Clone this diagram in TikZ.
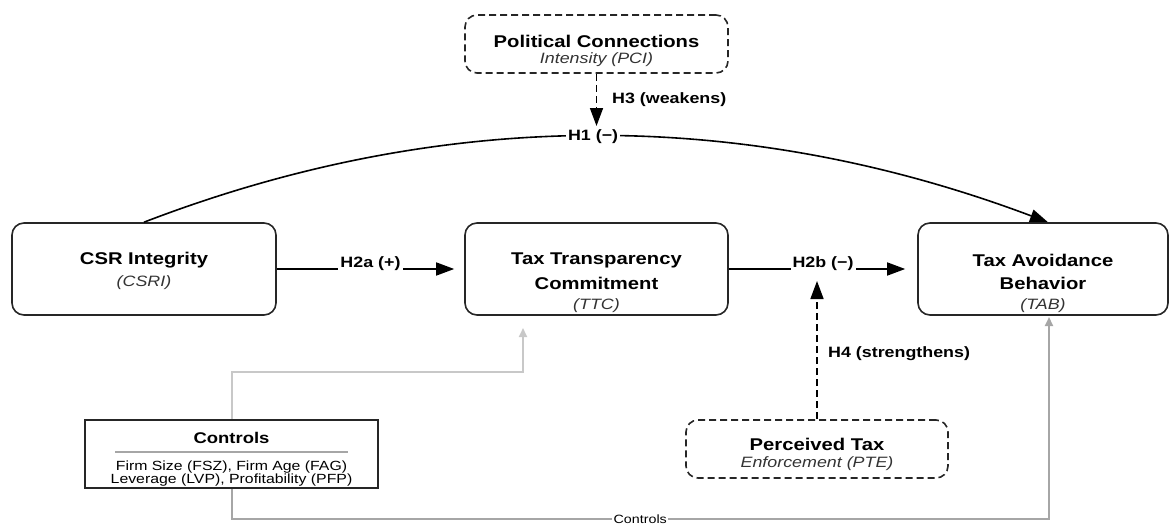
\documentclass[tikz,border=0pt]{standalone}
\usepackage{fontspec}
\setmainfont{Liberation Sans}[FakeStretch=1.19]
\usetikzlibrary{arrows.meta}
\definecolor{subgray}{HTML}{333333}
\definecolor{boxline}{HTML}{262626}
\definecolor{lightg}{HTML}{C8C8C8}
\definecolor{midg}{HTML}{A6A6A6}
\begin{document}
\begin{tikzpicture}[x=1pt,y=-1pt,
  box/.style={draw=boxline, line width=1.6pt, rounded corners=12pt, inner sep=0pt, fill=white},
  dbox/.style={box, dash pattern=on 7pt off 4pt},
  ctrlbox/.style={draw=boxline, line width=2.4pt, inner sep=0pt, fill=white},
  ttl/.style={font=\fontsize{17}{20}\selectfont\bfseries, inner sep=0pt},
  sub/.style={font=\fontsize{15}{18}\selectfont\itshape, text=subgray, inner sep=0pt},
  ctitle/.style={font=\fontsize{15.5}{18}\selectfont\bfseries, inner sep=0pt},
  ctext/.style={font=\fontsize{13.3}{13}\selectfont, inner sep=0pt, align=center},
  lab/.style={font=\fontsize{15}{18}\selectfont\bfseries, fill=white, inner sep=2pt},
  glab/.style={font=\fontsize{12}{14}\selectfont, fill=white, inner sep=1.5pt},
  arr/.style={-{Triangle[length=18pt,width=13pt]}, line width=1.6pt, draw=black},
  darr/.style={arr, dash pattern=on 7pt off 4pt},
  garrA/.style={-{Triangle[length=9pt,width=8pt]}, line width=2pt, draw=lightg},
  garrB/.style={-{Triangle[length=9pt,width=8pt]}, line width=2pt, draw=midg}
]
\useasboundingbox (0,0) rectangle (1170,525);

% boxes
\node[box, minimum width=264pt, minimum height=92pt] (csri) at (144,269) {};
\node[box, minimum width=263pt, minimum height=92pt] (ttc) at (596.5,269) {};
\node[box, minimum width=250pt, minimum height=92pt] (tab) at (1043,269) {};
\node[dbox, minimum width=263pt, minimum height=58pt] (pci) at (596.5,44) {};
\node[dbox, minimum width=262pt, minimum height=58pt] (pte) at (817,449) {};
\node[ctrlbox, minimum width=293pt, minimum height=68pt] (ctrl) at (231.5,454) {};

% texts
\node[ttl] (csriT) at (144,260) {CSR Integrity};
\node[sub] (csriS) at (144,283) {(CSRI)};
\node[ttl] (ttcT1) at (596.5,260) {Tax Transparency};
\node[ttl] (ttcT2) at (596.5,283) {Commitment};
\node[sub] (ttcS) at (596.5,306) {(TTC)};
\node[ttl] (tabT1) at (1043,260) {Tax Avoidance};
\node[ttl] (tabT2) at (1043,283) {Behavior};
\node[sub] (tabS) at (1043,306) {(TAB)};
\node[ttl] (pciT) at (596.5,41) {Political Connections};
\node[sub] (pciS) at (596.5,60) {Intensity (PCI)};
\node[ttl] (pteT) at (817,444) {Perceived Tax};
\node[sub] (pteS) at (817,464) {Enforcement (PTE)};
\node[ctitle] (ctrlT) at (231.5,438) {Controls};
\coordinate (sepL) at (115,452);
\coordinate (sepR) at (348,452);
\draw[draw=midg, line width=1.3pt] (sepL) -- (sepR);
\node[ctext] (ctrlL1) at (231.5,467) {Firm Size (FSZ), Firm Age (FAG)};
\node[ctext] (ctrlL2) at (231.5,480) {Leverage (LVP), Profitability (PFP)};

% end coordinates
\coordinate (h3end) at (596.5,126);
\coordinate (h4end) at (817,281);
\coordinate (c1) at (523,328);
\coordinate (c2) at (1049,317);

% connectors
\draw[arr] (csri.north) .. controls (441.7,107.7) and (742.7,107.3) .. node[lab, pos=0.5] (h1lab) {H1 (−)} ([xshift=5pt]tab.north);
\draw[arr, shorten >=10pt] (csri.east) -- node[lab, yshift=5pt] (h2alab) {H2a (+)} (ttc.west);
\draw[arr, shorten >=12pt] (ttc.east) -- node[lab, yshift=5pt] (h2blab) {H2b (−)} (tab.west);
\draw[darr] (pci.south) -- (h3end);
\node[lab, anchor=west, fill=none] (h3lab) at (610,100) {H3 (weakens)};
\draw[darr] (pte.north) -- (h4end);
\node[lab, anchor=west, fill=none] (h4lab) at (826,354) {H4 (strengthens)};

\draw[garrA] (ctrl.north) -- ++(0,-47) -| (c1);
\draw[garrB] (ctrl.south) -- ++(0,30) -| node[glab, pos=0.25] (clab) {Controls} (c2);
\end{tikzpicture}
\end{document}
